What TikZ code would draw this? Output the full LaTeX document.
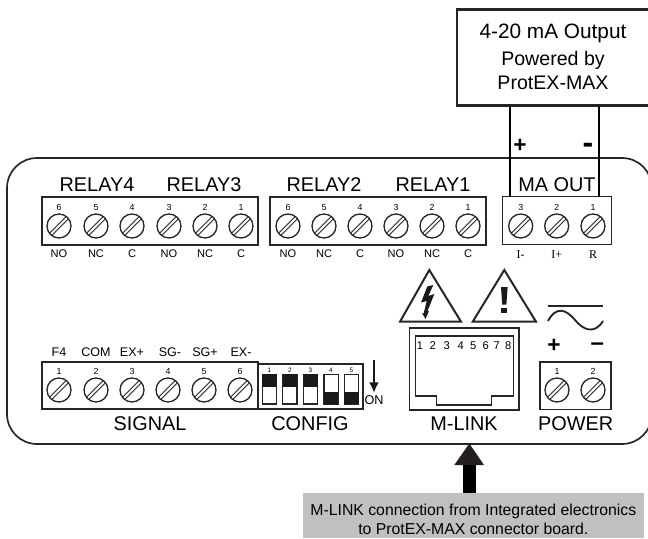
\documentclass[tikz,border=0pt]{standalone}
\usepackage{fontspec}
\setmainfont{Liberation Sans}
\newfontfamily\termserif{Liberation Serif}
\usetikzlibrary{arrows.meta}

\definecolor{notegray}{HTML}{C0C0C0}
\definecolor{headblack}{HTML}{231F20}

\newcommand{\fsz}[1]{\fontsize{#1}{#1}\selectfont}

\tikzset{
  panel/.style={draw=black!85,line width=1.25pt,rounded corners=22.5pt},
  block/.style={draw=black!85,line width=1.15pt,fill=white},
  wire/.style={draw=black,line width=1.05pt},
  screwhead/.style={circle,draw=black!85,line width=1pt,fill=white,minimum size=18pt,inner sep=0pt},
  slot/.style={draw=black!85,line width=.7pt},
  pinnum/.style={inner sep=0pt,text depth=0pt,font=\fsz{6.6}},
  smalllabel/.style={inner sep=0pt,text depth=0pt,font=\fsz{8.3}},
  siglabel/.style={inner sep=0pt,text depth=0pt,font=\fsz{9.4}},
  termlabel/.style={inner sep=0pt,text depth=0pt,font=\termserif\fsz{9}},
  title/.style={inner sep=0pt,text depth=0pt,font=\fsz{14.9}},
  signs/.style={inner sep=0pt,font=\bfseries\fsz{17}},
  switchbody/.style={draw=black!85,line width=1pt,fill=white},
  warnsign/.style={draw=black!85,line width=1.5pt,line join=miter,fill=white},
}

% one screw with its number over it
\newcommand{\terminal}[4]{
  \node[screwhead] (#1) at (#2,#3) {};
  \draw[slot] (#2-7,#3+9.2) -- (#2+9.2,#3-7);
  \draw[slot] (#2-9.2,#3+7) -- (#2+7,#3-9.2);
  \node[pinnum] (#1num) at (#2,#3-19) {#4};
}

\begin{document}
\begin{tikzpicture}[x=.75pt,y=-.75pt]
\useasboundingbox (0,0) rectangle (648,538);
\clip (0,0) rectangle (648,538);

\draw[panel] (7,158) rectangle (652,444);

% output box and its wires
\node[draw=black!85,line width=1.7pt,fill=white,inner sep=0pt,minimum width=147pt,minimum height=72pt] (output) at (555,57.5) {};
\node[inner sep=0pt,text depth=0pt,font=\fsz{15.6}] (outline1) at (553,31) {4-20 mA Output};
\node[inner sep=0pt,text depth=0pt,font=\fsz{14.7}] (outline2) at (553,58) {Powered by};
\node[inner sep=0pt,text depth=0pt,font=\fsz{14.7}] (outline3) at (553,83) {ProtEX-MAX};

\node[block,inner sep=0pt,minimum width=81.75pt,minimum height=36pt] (maout) at (557.2,220.5) {};
\coordinate (wireplus) at (509.8,197);
\coordinate (wireminus) at (598.8,197);
\draw[wire] (output.south -| wireplus) -- (wireplus);
\draw[wire] (output.south -| wireminus) -- (wireminus);
\node[signs] (plussign) at (520,146) {+};
\node[inner sep=0pt,font=\bfseries\fsz{24}] (minussign) at (588,148.5) {-};

% relay rows
\node[title] (relay4) at (97,185) {RELAY4};
\node[title] (relay3) at (204,185) {RELAY3};
\node[title] (relay2) at (324,185) {RELAY2};
\node[title] (relay1) at (433,185) {RELAY1};
\node[title] (maoutname) at (557,185) {MA OUT};

\draw[block] (42,197) rectangle (258,245);
\terminal{ra}{59}{226}{6}
\terminal{rb}{96}{226}{5}
\terminal{rc}{132}{226}{4}
\terminal{rd}{169}{226}{3}
\terminal{re}{205}{226}{2}
\terminal{rf}{241}{226}{1}
\node[smalllabel] (la) at (59,254) {NO};
\node[smalllabel] (lb) at (96,254) {NC};
\node[smalllabel] (lc) at (132,254) {C};
\node[smalllabel] (ld) at (169,254) {NO};
\node[smalllabel] (le) at (205,254) {NC};
\node[smalllabel] (lf) at (241,254) {C};

\draw[block] (270,197) rectangle (486,245);
\terminal{sa}{288}{226}{6}
\terminal{sb}{324}{226}{5}
\terminal{sc}{360}{226}{4}
\terminal{sd}{396}{226}{3}
\terminal{se}{432}{226}{2}
\terminal{sf}{468}{226}{1}
\node[smalllabel] (ma) at (288,254) {NO};
\node[smalllabel] (mb) at (324,254) {NC};
\node[smalllabel] (mc) at (360,254) {C};
\node[smalllabel] (md) at (396,254) {NO};
\node[smalllabel] (me) at (432,254) {NC};
\node[smalllabel] (mf) at (468,254) {C};

\terminal{ta}{520.7}{226}{3}
\terminal{tb}{556.7}{226}{2}
\terminal{tc}{593}{226}{1}
\node[termlabel] (na) at (520.7,255) {I-};
\node[termlabel] (nb) at (556.7,255) {I+};
\node[termlabel] (nc) at (593,255) {R};

% signal row
\node[siglabel] (ga) at (59,352) {F4};
\node[siglabel] (gb) at (96,352) {COM};
\node[siglabel] (gc) at (132,352) {EX+};
\node[siglabel] (gd) at (170,352) {SG-};
\node[siglabel] (ge) at (205,352) {SG+};
\node[siglabel] (gf) at (241,352) {EX-};
\draw[block] (42,362) rectangle (258,409);
\terminal{ua}{59}{390}{1}
\terminal{ub}{96}{390}{2}
\terminal{uc}{132}{390}{3}
\terminal{ud}{168}{390}{4}
\terminal{ue}{204}{390}{5}
\terminal{uf}{240}{390}{6}
\node[title] (signal) at (150,424) {SIGNAL};

% config switches
\draw[block] (258,364) rectangle (363,409);
\def\swtop{374.3}
\def\swbot{404}
\draw[switchbody] (262.3,\swtop) rectangle (276.7,\swbot);
\fill[black!90] (262.3,\swtop) rectangle (276.7,386.7);
\draw[switchbody] (282.7,\swtop) rectangle (297,\swbot);
\fill[black!90] (282.7,\swtop) rectangle (297,386.7);
\draw[switchbody] (303.3,\swtop) rectangle (317.7,\swbot);
\fill[black!90] (303.3,\swtop) rectangle (317.7,386.7);
\draw[switchbody] (324,\swtop) rectangle (338.3,\swbot);
\fill[black!90] (324,392.3) rectangle (338.3,\swbot);
\draw[switchbody] (344.3,\swtop) rectangle (358.7,\swbot);
\fill[black!90] (344.3,392.3) rectangle (358.7,\swbot);
\node[inner sep=0pt,font=\fsz{4.8}] (cfa) at (269.5,370) {1};
\node[inner sep=0pt,font=\fsz{4.8}] (cfb) at (290,370) {2};
\node[inner sep=0pt,font=\fsz{4.8}] (cfc) at (310.5,370) {3};
\node[inner sep=0pt,font=\fsz{4.8}] (cfd) at (331,370) {4};
\node[inner sep=0pt,font=\fsz{4.8}] (cfe) at (351.5,370) {5};
\coordinate (ontop) at (374,360);
\coordinate (ontip) at (374,393);
\draw[line width=2pt,-{Latex[length=8pt,width=7.5pt]},black!90] (ontop) -- (ontip);
\node[inner sep=0pt,font=\fsz{9.5}] (onlabel) at (374,400) {ON};
\node[title] (config) at (310,424) {CONFIG};

% warning signs
\draw[warnsign] (429.3,270) -- (461,321.7) -- (400,321.7) -- cycle;
\fill[black!90] (427.3,286.5) -- (421,302.5) -- (426.7,301) -- (423.7,313.5) -- (422,313) -- (425.5,319) -- (429,311) -- (427.3,311.5) -- (434.3,294) -- (428.3,296) -- (433.3,285) -- cycle;
\draw[warnsign] (504.3,270) -- (536,321.7) -- (472.7,321.7) -- cycle;
\fill[black!90] (501,287) -- (507.6,287) -- (506.4,304.5) -- (502.2,304.5) -- cycle;
\fill[black!90] (501.3,307.5) rectangle (507.3,312.7);

% m-link socket
\draw[block] (409.3,328) rectangle (519,410);
\draw[draw=black!85,line width=1.1pt] (415.7,336) -- (513.3,336) -- (513.3,396) -- (491.7,396) -- (491.7,405) -- (436.7,405) -- (436.7,396) -- (415.7,396) -- cycle;
\node[inner sep=0pt,font=\fsz{8.4}] (pa) at (420,346) {1};
\node[inner sep=0pt,font=\fsz{8.4}] (pb) at (432.7,346) {2};
\node[inner sep=0pt,font=\fsz{8.4}] (pc) at (446.7,346) {3};
\node[inner sep=0pt,font=\fsz{8.4}] (pd) at (460.7,346) {4};
\node[inner sep=0pt,font=\fsz{8.4}] (pe) at (473.3,346) {5};
\node[inner sep=0pt,font=\fsz{8.4}] (pf) at (485.7,346) {6};
\node[inner sep=0pt,font=\fsz{8.4}] (pg) at (496.7,346) {7};
\node[inner sep=0pt,font=\fsz{8.4}] (ph) at (508.3,346) {8};
\node[title] (mlink) at (464,424) {M-LINK};

% power
\draw[line width=1.4pt,black!85] (547.7,306) -- (603.3,306);
\draw[line width=1.4pt,black!85] (548,321) .. controls (556,306) and (566,309) .. (575,320) .. controls (584,331) and (595,334) .. (603,321);
\node[signs] (powplus) at (554,346) {+};
\node[inner sep=0pt,font=\bfseries\fsz{18}] (powminus) at (597.3,346.5) {--};
\draw[block] (540,362) rectangle (611,409.5);
\terminal{va}{557}{390}{1}
\terminal{vb}{593}{390}{2}
\node[title] (power) at (575.7,424) {POWER};

% note under the panel
\fill[headblack] (469.3,443.5) -- (484,465) -- (454.3,465) -- cycle;
\fill[black] (462.8,465) rectangle (475.8,493.5);
\node[fill=notegray,inner sep=0pt,minimum width=256pt,minimum height=33.5pt] (note) at (473.3,515.7) {};
\node[inner sep=0pt,text depth=0pt,font=\fsz{11.85}] (noteline1) at (473.3,510) {M-LINK connection from Integrated electronics};
\node[inner sep=0pt,text depth=0pt,font=\fsz{11.85}] (noteline2) at (473.3,529) {to ProtEX-MAX connector board.};
\end{tikzpicture}
\end{document}
